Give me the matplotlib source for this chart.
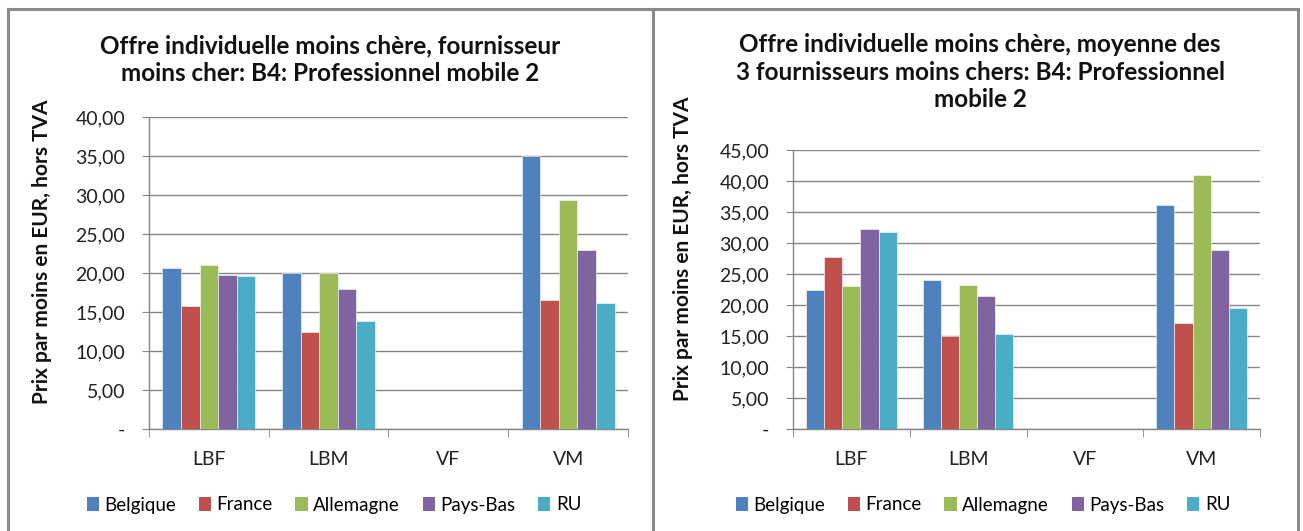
import numpy as np
import matplotlib
matplotlib.use("Agg")
import matplotlib.pyplot as plt
from matplotlib.lines import Line2D
from matplotlib.patches import Patch

plt.rcParams['font.family'] = ['Lato', 'DejaVu Sans']

categories = ['LBF', 'LBM', 'VF', 'VM']
countries = ['Belgique', 'France', 'Allemagne', 'Pays-Bas', 'RU']
colors = ['#4f81bd', '#c0504d', '#9bbb59', '#8064a2', '#4bacc6']

# fournisseur moins cher (VF has no data)
left_vals = {
    'Belgique':  [20.6, 20.0, 0, 35.0],
    'France':    [15.8, 12.4, 0, 16.6],
    'Allemagne': [21.0, 20.0, 0, 29.3],
    'Pays-Bas':  [19.8, 18.0, 0, 23.0],
    'RU':        [19.6, 13.8, 0, 16.2],
}
# moyenne des 3 fournisseurs moins chers
right_vals = {
    'Belgique':  [22.4, 24.1, 0, 36.1],
    'France':    [27.7, 15.0, 0, 17.1],
    'Allemagne': [23.0, 23.3, 0, 40.9],
    'Pays-Bas':  [32.2, 21.4, 0, 28.8],
    'RU':        [31.8, 15.3, 0, 19.5],
}

left_title = "Offre individuelle moins chère, fournisseur\nmoins cher: B4: Professionnel mobile 2"
right_title = "Offre individuelle moins chère, moyenne des\n3 fournisseurs moins chers: B4: Professionnel\nmobile 2"
ylabel = "Prix par moins en EUR, hors TVA"

W, H = 1303, 531
fig = plt.figure(figsize=(W / 100, H / 100), dpi=100)


def fx(px):
    return px / W


def fy(py):
    return 1 - py / H


def fmt(v, pos):
    if v == 0:
        return '-'
    return ('%.2f' % v).replace('.', ',')


def draw(ax, vals, ymax, step):
    x = np.arange(len(categories))
    bw = 0.155
    for i, c in enumerate(countries):
        ax.bar(x + (i - 2) * bw, vals[c], bw, color=colors[i],
               edgecolor='white', linewidth=0.4, zorder=3)
    ax.set_xlim(-0.5, len(categories) - 0.5)
    ax.set_ylim(0, ymax)
    ax.set_yticks(np.arange(0, ymax + 0.01, step))
    ax.yaxis.set_major_formatter(matplotlib.ticker.FuncFormatter(fmt))
    ax.set_xticks(x)
    ax.set_xticklabels(categories)
    ax.set_xticks(np.arange(-0.5, len(categories), 1), minor=True)
    ax.tick_params(axis='x', which='major', length=0, pad=16, labelsize=14, colors='#222222')
    ax.tick_params(axis='x', which='minor', length=6, direction='out', color='#868686')
    ax.tick_params(axis='y', length=5, direction='out', color='#868686', labelsize=14,
                   labelcolor='#222222', pad=12)
    ax.grid(axis='y', color='#868686', linewidth=1.0, zorder=0)
    for s in ['top', 'right']:
        ax.spines[s].set_visible(False)
    for s in ['left', 'bottom']:
        ax.spines[s].set_color('#868686')
        ax.spines[s].set_linewidth(1.0)


ax1 = fig.add_axes([fx(149), fy(429), fx(628 - 149), (429 - 117) / H])
draw(ax1, left_vals, 40, 5)
ax2 = fig.add_axes([fx(793), fy(429), fx(1260 - 793), (429 - 150) / H])
draw(ax2, right_vals, 45, 5)

fig.text(fx(330), fy(60), left_title, ha='center', va='center', fontsize=17.5,
         fontweight='bold', linespacing=1.25, color='#111111')
fig.text(fx(980), fy(72), right_title, ha='center', va='center', fontsize=17.5,
         fontweight='bold', linespacing=1.25, color='#111111')

fig.text(fx(42), fy(252), ylabel, rotation=90, ha='center', va='center',
         fontsize=15, fontweight='bold', color='#111111')
fig.text(fx(683), fy(249), ylabel, rotation=90, ha='center', va='center',
         fontsize=15, fontweight='bold', color='#111111')

handles = [Patch(facecolor=colors[i], label=c) for i, c in enumerate(countries)]
for cx in (334, 983):
    fig.legend(handles=handles, loc='center', bbox_to_anchor=(fx(cx), fy(505)),
               ncol=5, frameon=False, fontsize=13.5, handlelength=0.65,
               handleheight=0.75, handletextpad=0.3, columnspacing=1.2)

# panel borders
border = dict(color='#8a8a8a', linewidth=2.2, transform=fig.transFigure)
fig.add_artist(Line2D([fx(8), fx(1298)], [fy(9), fy(9)], **border))
fig.add_artist(Line2D([fx(8), fx(8)], [fy(9), 0], **border))
fig.add_artist(Line2D([fx(653), fx(653)], [fy(9), 0], **border))
fig.add_artist(Line2D([fx(1298), fx(1298)], [fy(9), 0], **border))

fig.savefig('out.png', dpi=100)
